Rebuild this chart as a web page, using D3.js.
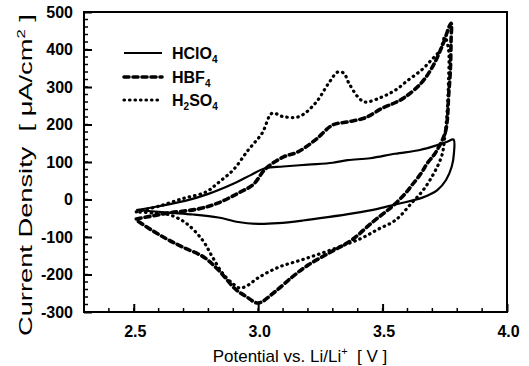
<!DOCTYPE html>
<html><head><meta charset="utf-8">
<script src="https://cdn.jsdelivr.net/npm/d3@7/dist/d3.min.js"></script>
<style>
body{margin:0;background:#fff;}
svg{display:block;font-family:"Liberation Sans",Arial,sans-serif;}
</style></head>
<body><svg id="c" width="529" height="366"></svg>
<script>
// ---- data ----
const hclo4V = [2.51,2.60,2.71,2.80,2.90,2.97,3.03,3.10,3.20,3.30,3.36,3.45,3.55,3.65,3.72,3.76,3.785,3.787,3.778,3.755,3.72,3.66,3.56,3.48,3.38,3.28,3.18,3.08,3.00,2.92,2.84,2.74,2.64,2.51];
const hclo4I = [-28,-18,-3,15,42,65,84,88,93,98,105,110,122,132,145,154,160,125,88,52,25,5,-12,-25,-37,-47,-56,-63,-65,-60,-48,-40,-35,-28];

const hbf4V = [2.51,2.64,2.76,2.84,2.92,2.98,3.03,3.10,3.16,3.23,3.30,3.36,3.43,3.50,3.55,3.59,3.656,3.70,3.74,3.775,3.775,3.772,3.765,3.76,3.75,3.712,3.68,3.656,3.62,3.59,3.536,3.46,3.376,3.284,3.20,3.136,3.06,3.00,2.95,2.91,2.84,2.78,2.70,2.64,2.58,2.51];
const hbf4I = [-52,-36,-25,-9,17,40,82,113,127,159,199,207,218,244,258,273,311,353,410,470,420,340,273,212,175,124,97,71,40,15,-20,-60,-108,-143,-175,-207,-250,-276,-258,-240,-188,-153,-128,-108,-85,-55];

const h2so4V = [2.51,2.60,2.70,2.79,2.84,2.90,2.96,3.016,3.056,3.10,3.164,3.23,3.284,3.32,3.344,3.364,3.404,3.43,3.496,3.552,3.604,3.656,3.696,3.732,3.75,3.765,3.765,3.76,3.75,3.736,3.672,3.616,3.552,3.48,3.416,3.34,3.256,3.17,3.084,3.004,2.95,2.924,2.896,2.856,2.816,2.776,2.71,2.644,2.58,2.51];
const h2so4I = [-33,-18,3,20,45,79,132,177,230,221,221,257,311,340,337,311,271,260,273,292,319,345,372,399,433,400,320,240,167,113,33,-10,-55,-80,-103,-123,-143,-162,-180,-207,-232,-236,-223,-196,-153,-108,-63,-41,-36,-33];

const xTicks = [2.5,3.0,3.5,4.0];
const yTicks = [-300,-200,-100,0,100,200,300,400,500];

// ---- layout ----
const svg = d3.select("#c");
const L=84, R=507, T=12, B=312;
const x = d3.scaleLinear().domain([2.3,4.0]).range([L,R]);
const y = d3.scaleLinear().domain([-300,500]).range([B,T]);

// frame
svg.append("rect").attr("x",L).attr("y",T).attr("width",R-L).attr("height",B-T)
  .attr("fill","none").attr("stroke","#000").attr("stroke-width",2);

// minor ticks
const xMinor = d3.range(2.4,4.0,0.1);
svg.append("g").selectAll("line").data(xMinor).join("line")
  .attr("x1",d=>x(d)).attr("x2",d=>x(d)).attr("y1",B).attr("y2",B-4)
  .attr("stroke","#000").attr("stroke-width",1.5);
const yMinor = d3.range(-280,500,20);
svg.append("g").selectAll("line").data(yMinor).join("line")
  .attr("x1",L).attr("x2",L+4).attr("y1",d=>y(d)).attr("y2",d=>y(d))
  .attr("stroke","#000").attr("stroke-width",1.5);

// major axes
const xAxis = d3.axisBottom(x).tickValues(xTicks).tickFormat(d=>d.toFixed(1)).tickSizeInner(-8).tickSizeOuter(0).tickPadding(14);
const gx = svg.append("g").attr("transform",`translate(0,${B})`).call(xAxis);
gx.select(".domain").remove();
gx.selectAll("line").attr("stroke-width",2);
gx.selectAll("text").attr("font-size",16).attr("font-weight","bold").attr("fill","#000").attr("dx",1);

const yAxis = d3.axisLeft(y).tickValues(yTicks).tickFormat(d=>String(d)).tickSizeInner(-8).tickSizeOuter(0).tickPadding(11);
const gy = svg.append("g").attr("transform",`translate(${L},0)`).call(yAxis);
gy.select(".domain").remove();
gy.selectAll("line").attr("stroke-width",2);
gy.selectAll("text").attr("font-size",16).attr("font-weight","bold").attr("fill","#000");

// curves
const line = d3.line().x(d=>x(d[0])).y(d=>y(d[1])).curve(d3.curveCatmullRom.alpha(0.5));
const series = [
  {V:hclo4V,I:hclo4I,dash:null,w:2.2,cap:"butt"},
  {V:hbf4V,I:hbf4I,dash:"5,4",w:3.6,cap:"round"},
  {V:h2so4V,I:h2so4I,dash:"0.5,5",w:3.2,cap:"round"}
];
series.forEach(s=>{
  svg.append("path").datum(s.V.map((v,i)=>[v,s.I[i]])).attr("d",line)
    .attr("fill","none").attr("stroke","#000").attr("stroke-width",s.w)
    .attr("stroke-linecap",s.cap).attr("stroke-linejoin","round")
    .attr("stroke-dasharray",s.dash);
});

// legend
const lg = svg.append("g");
const ly = [53,77,100];
series.forEach((s,i)=>{
  lg.append("line").attr("x1",124).attr("x2",162).attr("y1",ly[i]).attr("y2",ly[i])
    .attr("stroke","#000").attr("stroke-width",s.w).attr("stroke-linecap",s.cap)
    .attr("stroke-dasharray",s.dash);
});
const names = [["HClO","4"],["HBF","4"],["H","2","SO","4"]];
names.forEach((nm,i)=>{
  const t = lg.append("text").attr("x",172).attr("y",ly[i]+6).attr("font-size",16).attr("font-weight","bold");
  let down=false;
  nm.forEach(p=>{
    if(/^\d$/.test(p)){ t.append("tspan").attr("font-size",10).attr("dy",down?0:4).text(p); down=true; }
    else { t.append("tspan").attr("dy",down?-4:0).text(p); down=false; }
  });
});

// axis titles
const xt = svg.append("text").attr("x",300).attr("y",362).attr("text-anchor","middle").attr("font-size",17);
xt.append("tspan").text("Potential vs. Li/Li");
xt.append("tspan").attr("font-size",11).attr("dy",-7).text("+");
xt.append("tspan").attr("dy",7).attr("xml:space","preserve").text("  [ V ]");

const yt = svg.append("text").attr("x",0).attr("y",0)
  .attr("font-size",18).attr("xml:space","preserve");
yt.append("tspan").text("Current Density  [ μA/cm");
yt.append("tspan").attr("font-size",11).attr("dy",-7).text("2");
yt.append("tspan").attr("dy",7).text(" ]");
const bb = yt.node().getBBox();
const targetLen = 322, sx = targetLen / bb.width;
yt.attr("transform",`translate(32,${175 + targetLen/2}) rotate(-90) scale(${sx},1)`);
</script></body></html>
